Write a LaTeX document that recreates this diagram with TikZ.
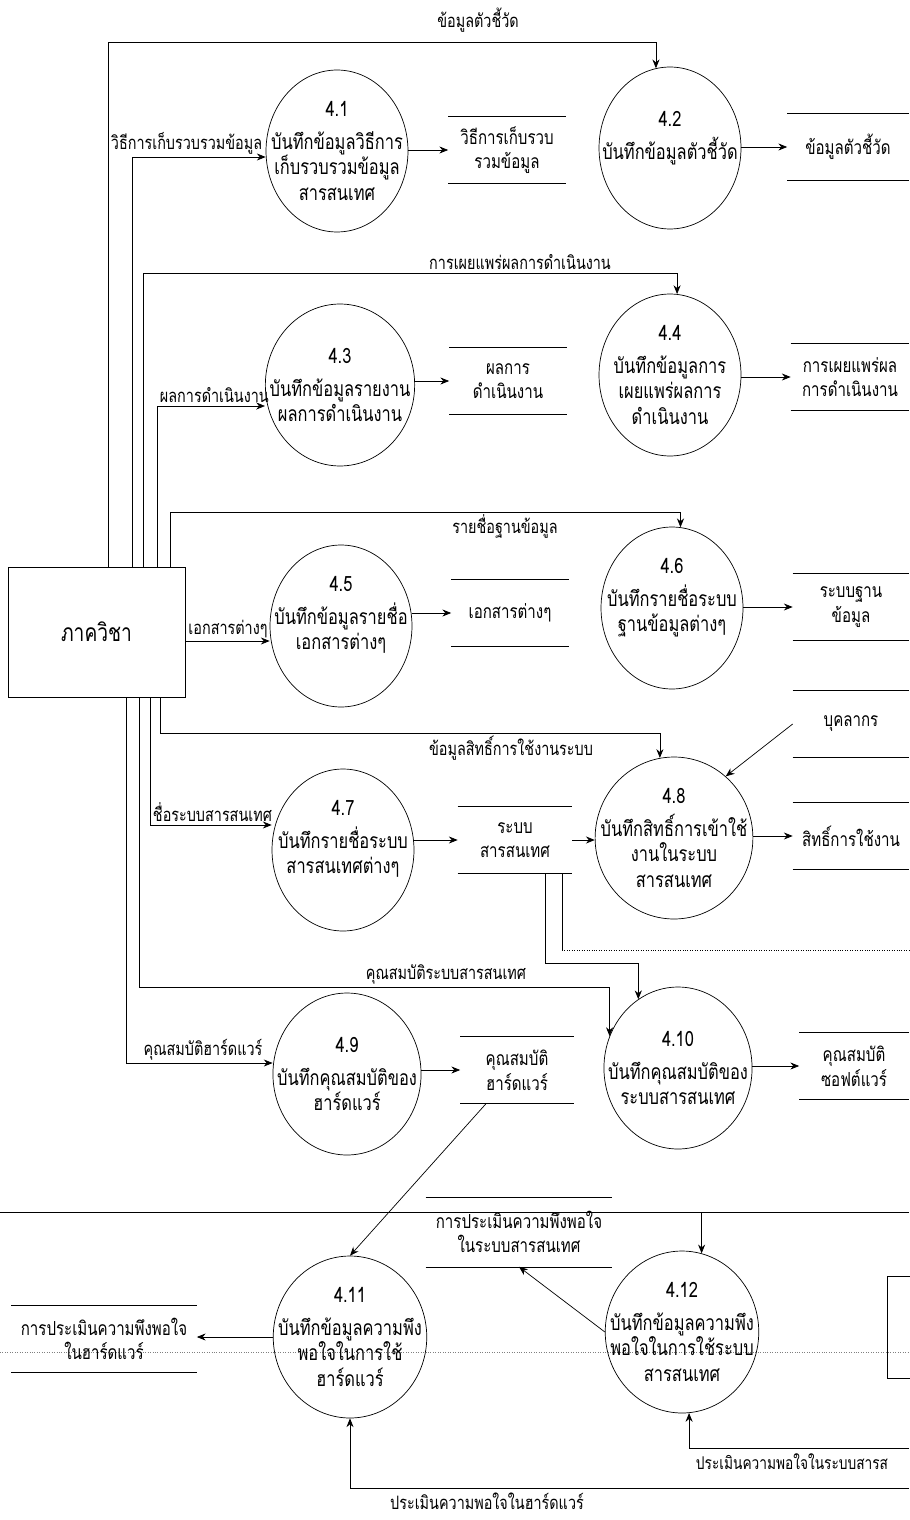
\documentclass[tikz,border=0pt]{standalone}
\usepackage{fontspec}
\newfontfamily\thaifont[Script=Thai,FakeStretch=0.78]{Loma}
\usetikzlibrary{shapes.geometric,arrows.meta,calc}

\begin{document}
\begin{tikzpicture}[x=0.02cm,y=-0.02cm,
    font=\thaifont\fontsize{10.5}{14}\selectfont,
    proc/.style={ellipse,draw,thin,minimum width=2.84cm,minimum height=3.24cm,align=center,
        inner xsep=-10pt,inner ysep=0pt,font=\thaifont\fontsize{12}{14.5}\selectfont},
    store/.style={minimum width=2.34cm,minimum height=1.32cm,align=center,inner sep=0pt,
        font=\thaifont\fontsize{11}{14}\selectfont},
    flow/.style={thin,-{Stealth[length=5pt,width=4pt]}},
    line/.style={thin},
    lbl/.style={inner sep=1.5pt}]
    \useasboundingbox (0,0) rectangle (909,1520);

    % Scan lines across the page
    \draw[line] (0,1212) -- (909,1212);
    \draw[densely dotted,gray] (0,1352) -- (909,1352);

    % External entity
    \node[draw,thin,minimum width=3.54cm,minimum height=2.6cm,font=\thaifont\fontsize{14}{16}\selectfont] (dept) at (96.5,632) {ภาควิชา};
    \node[draw,thin,minimum width=1.2cm,minimum height=2.04cm,anchor=north west] (ext) at (887,1276) {};

    % Processes
    \node[proc] (p41) at (337,151) {4.1\\[4pt]บันทึกข้อมูลวิธีการ\\เก็บรวบรวมข้อมูล\\สารสนเทศ};
    \node[proc] (p42) at (670,148) {4.2\\[4pt]บันทึกข้อมูลตัวชี้วัด\\ \mbox{}};
    \node[proc] (p43) at (340,385) {4.3\\[4pt]บันทึกข้อมูลรายงาน\\ผลการดำเนินงาน};
    \node[proc] (p44) at (670,375) {4.4\\[4pt]บันทึกข้อมูลการ\\เผยแพร่ผลการ\\ดำเนินงาน};
    \node[proc] (p45) at (341,626) {4.5\\[4pt]บันทึกข้อมูลรายชื่อ\\เอกสารต่างๆ\\ \mbox{}};
    \node[proc] (p46) at (672,608) {4.6\\[4pt]บันทึกรายชื่อระบบ\\ฐานข้อมูลต่างๆ\\ \mbox{}};
    \node[proc] (p47) at (343,850) {4.7\\[4pt]บันทึกรายชื่อระบบ\\สารสนเทศต่างๆ\\ \mbox{}};
    \node[proc] (p48) at (674,838) {4.8\\[4pt]บันทึกสิทธิ์การเข้าใช้\\งานในระบบ\\สารสนเทศ};
    \node[proc] (p49) at (347,1074) {4.9\\[4pt]บันทึกคุณสมบัติของ\\ฮาร์ดแวร์};
    \node[proc] (p410) at (678,1068) {4.10\\[4pt]บันทึกคุณสมบัติของ\\ระบบสารสนเทศ};
    \node[proc] (p411) at (350,1337) {4.11\\[4pt]บันทึกข้อมูลความพึง\\พอใจในการใช้\\ฮาร์ดแวร์};
    \node[proc] (p412) at (682,1332) {4.12\\[4pt]บันทึกข้อมูลความพึง\\พอใจในการใช้ระบบ\\สารสนเทศ};

    % Data stores
    \node[store] (d1) at (507,150) {วิธีการเก็บรวบ\\รวมข้อมูล};
    \node[store,minimum width=2.42cm] (d2) at (848,147) {ข้อมูลตัวชี้วัด};
    \node[store] (d3) at (508,381) {ผลการ\\ดำเนินงาน};
    \node[store,minimum width=2.36cm] (d4) at (850,377) {การเผยแพร่ผล\\การดำเนินงาน};
    \node[store] (d5) at (510,613) {เอกสารต่างๆ};
    \node[store,minimum width=2.32cm] (d6) at (851,607) {ระบบฐาน\\ข้อมูล};
    \node[store,minimum width=2.32cm] (d8) at (851,724) {บุคลากร};
    \node[store,minimum width=2.28cm] (d7) at (515,840) {ระบบ\\สารสนเทศ};
    \node[store,minimum width=2.32cm] (d9) at (851,836) {สิทธิ์การใช้งาน};
    \node[store,minimum width=2.26cm] (d10) at (517,1070) {คุณสมบัติ\\ฮาร์ดแวร์};
    \node[store,minimum width=2.18cm] (d11) at (854,1066) {คุณสมบัติ\\ซอฟต์แวร์};
    \node[store,minimum width=3.72cm,minimum height=1.38cm] (d12) at (519,1232) {การประเมินความพึงพอใจ\\ในระบบสารสนเทศ};
    \node[store,minimum width=3.7cm] (d13) at (104,1339) {การประเมินความพึงพอใจ\\ในฮาร์ดแวร์};
    \foreach \s in {d1,d2,d3,d4,d5,d6,d7,d8,d9,d10,d11,d12,d13}
        \draw[line] (\s.north west) -- (\s.north east) (\s.south west) -- (\s.south east);

    % Bus from the department box
    \coordinate (c42) at (108,42);
    \coordinate (c41) at (132,157);
    \coordinate (c44) at (143,273);
    \coordinate (c43) at (157,406);
    \coordinate (c46) at (170,512);
    \coordinate (c45) at (185,641);
    \coordinate (c48) at (160,733);
    \coordinate (c47) at (150,825);
    \coordinate (c410) at (139,987);
    \coordinate (c49) at (126,1063);

    \draw[flow] (dept.north -| c42) -- (c42) -| (p42.100);
    \draw[flow] (dept.north -| c41) -- (c41) -- (c41 -| p41.west);
    \draw[flow] (dept.north -| c44) -- (c44) -| (p44.85);
    \draw[flow] (dept.north -| c43) -- (c43) -- (c43 -| p43.west);
    \draw[flow] (dept.north -| c46) -- (c46) -| (p46.84);
    \draw[flow] (dept.east |- c45) -- (c45 -| p45.west);
    \draw[flow] (dept.south -| c48) -- (c48) -| (p48.100);
    \draw[flow] (dept.south -| c47) -- (c47) -- (c47 -| p47.west);
    \draw[flow] (dept.south -| c410) -- (c410) -| (p410.155);
    \draw[flow] (dept.south -| c49) -- (c49) -- (c49 -| p49.west);

    % Flow labels
    \node[lbl] (t42) at (478,20) {ข้อมูลตัวชี้วัด};
    \node[lbl,anchor=south west] (t41) at (108,157) {วิธีการเก็บรวบรวมข้อมูล};
    \node[lbl,above] (t44) at (520,273) {การเผยแพร่ผลการดำเนินงาน};
    \node[lbl,anchor=south west] (t43) at (157,406) {ผลการดำเนินงาน};
    \node[lbl,below] (t46) at (505,512) {รายชื่อฐานข้อมูล};
    \node[lbl,above] (t45) at (228,641) {เอกสารต่างๆ};
    \node[lbl,below] (t48) at (511,733) {ข้อมูลสิทธิ์การใช้งานระบบ};
    \node[lbl,anchor=south west] (t47) at (150,825) {ชื่อระบบสารสนเทศ};
    \node[lbl,above] (t410) at (446,987) {คุณสมบัติระบบสารสนเทศ};
    \node[lbl,above] (t49) at (203,1063) {คุณสมบัติฮาร์ดแวร์};

    % Process to store
    \draw[flow] (p41.east |- d1) -- (d1.west);
    \draw[flow] (p42.east |- d2) -- (d2.west);
    \draw[flow] (p43.east |- d3) -- (d3.west);
    \draw[flow] (p44.east |- d4) -- (d4.west);
    \draw[flow] (p45.east |- d5) -- (d5.west);
    \draw[flow] (p46.east |- d6) -- (d6.west);
    \draw[flow] (p47.east |- d7) -- (d7.west);
    \draw[flow] (d7.east) -- (d7.east -| p48.west);
    \draw[flow] (d8.west) -- (p48.50);
    \draw[flow] (p48.east |- d9) -- (d9.west);
    \draw[flow] (p49.east |- d10) -- (d10.west);
    \draw[flow] (p410.east |- d11) -- (d11.west);

    % Information system store down to 4.10
    \coordinate (c7a) at (545,963);
    \coordinate (c7b) at (562,950);
    \coordinate (e7b) at (909,950);
    \draw[flow] (d7.south -| c7a) -- (c7a) -| (p410.120);
    \draw[line] (d7.south -| c7b) -- (c7b);
    \draw[line,densely dotted] (c7b) -- (e7b);

    % Satisfaction part
    \coordinate (c412) at (701,1212);
    \coordinate (e412) at (909,1448);
    \coordinate (e411) at (909,1488);
    \draw[flow] (p412.76 |- c412) -- (p412.76);
    \draw[flow] (p412.west) -- (d12.south);
    \draw[flow] ($(d10.south west)!0.23!(d10.south east)$) -- (p411.north);
    \draw[flow] (p411.west) -- (p411.west -| d13.east);
    \draw[flow] (e412) -| (p412.275);
    \draw[flow] (e411) -| (p411.south);
    \node[lbl,anchor=north west,font=\thaifont\fontsize{10}{12}\selectfont] (t412) at (693,1451) {ประเมินความพอใจในระบบสารส};
    \node[lbl,below] (t411) at (487,1490) {ประเมินความพอใจในฮาร์ดแวร์};
\end{tikzpicture}
\end{document}
